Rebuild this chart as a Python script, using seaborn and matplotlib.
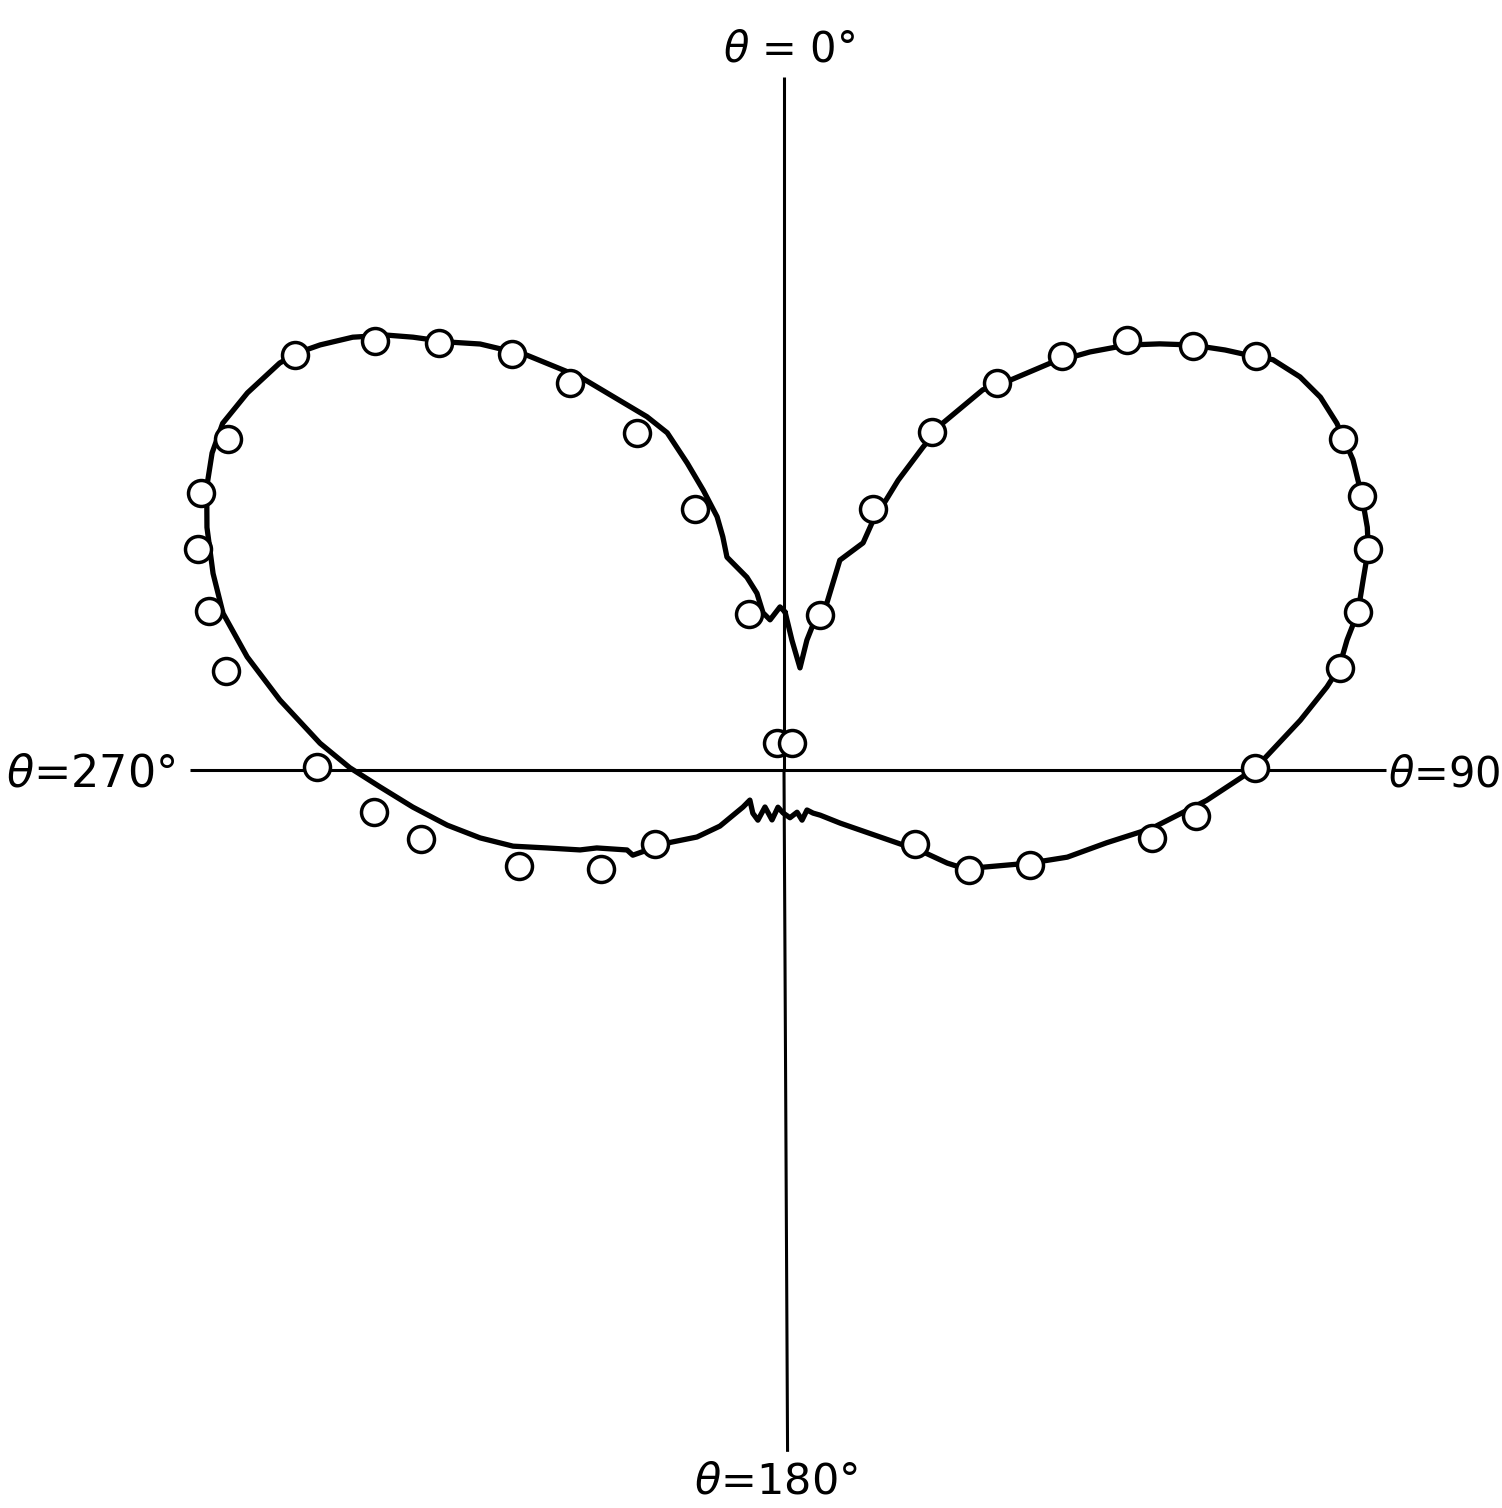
import numpy as np
import pandas as pd
import matplotlib
matplotlib.use("Agg")
import matplotlib.pyplot as plt
import seaborn as sns

# Measured field strength (relative) versus azimuth angle theta (degrees, clockwise from 0)
meas_theta_deg = [13.1, 18.8, 23.65, 28.8, 33.9, 38.6, 44.0, 48.7, 59.4, 64.6,
                  69.3, 74.6, 79.6, 89.8, 96.4, 100.5, 111.1, 118.4, 119.5,
                  347.4, 341.2, 336.4, 331.1, 326.8, 321.1, 316.4, 310.3, 300.8, 295.4,
                  290.7, 285.5, 280.1, 270.4, 264.2, 259.2, 250.1, 241.6, 240.2,
                  345.5, 16.5]
meas_r = [0.245, 0.424, 0.568, 0.680, 0.767, 0.846, 0.906, 0.966, 1.000, 0.984,
          0.961, 0.916, 0.870, 0.725, 0.638, 0.576, 0.406, 0.324, 0.231,
          0.246, 0.424, 0.566, 0.680, 0.765, 0.845, 0.912, 0.987, 0.996, 0.993,
          0.964, 0.918, 0.872, 0.718, 0.634, 0.568, 0.434, 0.320, 0.229,
          0.043, 0.043]

# Continuously recorded pattern
curve_theta_deg = [0.4, 3.5, 8.9, 10.0, 11.3, 14.4, 14.9, 19.2, 19.6, 21.5,
                   23.3, 24.6, 27.6, 30.1, 33.2, 36.2, 38.9, 41.4, 43.8, 46.4,
                   48.8, 50.0, 52.7, 55.2, 57.9, 61.4, 64.6, 67.4, 69.3, 71.8,
                   74.6, 77.0, 79.6, 81.3, 84.5, 89.8, 94.1, 99.0, 102.7, 107.1,
                   110.7, 116.0, 118.4, 119.7, 120.5, 124.9, 133.4, 141.3, 146.0, 150.1,
                   160.2, 162.8, 172.9, 181.3, 189.2, 193.5, 207.2, 207.5, 215.8, 228.6,
                   227.9, 228.8, 232.4, 238.0, 240.6, 243.0, 247.4, 248.6, 251.8, 254.3,
                   257.4, 260.7, 264.3, 267.6, 270.3, 273.3, 277.9, 281.9, 285.6, 289.0,
                   292.8, 296.1, 299.0, 301.7, 305.1, 308.9, 310.6, 312.5, 315.1, 317.6,
                   319.4, 321.8, 324.5, 328.2, 332.6, 338.8, 340.9, 342.5, 343.9, 345.2,
                   345.3, 345.0, 349.1, 351.3, 352.4, 354.7, 358.6, 360.4]
curve_r = [0.243, 0.200, 0.159, 0.203, 0.228, 0.265, 0.334, 0.370, 0.403, 0.479,
           0.541, 0.587, 0.660, 0.693, 0.748, 0.797, 0.840, 0.874, 0.906, 0.937,
           0.965, 0.982, 0.998, 1.005, 1.004, 0.997, 0.984, 0.972, 0.961, 0.938,
           0.916, 0.889, 0.868, 0.845, 0.798, 0.725, 0.652, 0.573, 0.509, 0.456,
           0.405, 0.341, 0.324, 0.289, 0.248, 0.180, 0.119, 0.089, 0.080, 0.071,
           0.082, 0.068, 0.074, 0.066, 0.058, 0.079, 0.064, 0.087, 0.082, 0.070,
           0.085, 0.131, 0.169, 0.212, 0.267, 0.271, 0.312, 0.337, 0.384, 0.433,
           0.479, 0.525, 0.574, 0.622, 0.668, 0.715, 0.783, 0.844, 0.896, 0.929,
           0.963, 0.989, 1.006, 1.015, 1.009, 0.997, 0.986, 0.968, 0.940, 0.906,
           0.877, 0.838, 0.805, 0.751, 0.681, 0.583, 0.549, 0.495, 0.448, 0.403,
           0.371, 0.339, 0.302, 0.275, 0.244, 0.232, 0.251, 0.243]

# Reference axis lines: (theta in degrees, length)
axis_theta_deg = [0.0, 90.0, 179.7, 270.0]
axis_len = [1.066, 0.926, 1.049, 0.914]

# Axis labels: text, pixel position (x, baseline y), alignment, size
label_text = [r"$\theta$ = 0°", r"$\theta$=270°", r"$\theta$=90", r"$\theta$=180°"]
label_xy = [(789, 61), (6, 786), (1388, 786), (776, 1493)]
label_ha = ["center", "left", "left", "center"]
label_size = [30, 32, 30, 31]

W, H = 1502, 1508
CX, CY = 784, 770          # pattern origin in pixels
UNIT = 650                 # pixels per unit of relative field
RMAX = 1.08

fig = plt.figure(figsize=(W / 100, H / 100), dpi=100)
fig.patch.set_facecolor("white")
half = RMAX * UNIT
ax = fig.add_axes([(CX - half) / W, (H - CY - half) / H, 2 * half / W, 2 * half / H],
                  projection="polar")
ax.set_theta_zero_location("N")
ax.set_theta_direction(-1)

# axis cross
for t, L in zip(axis_theta_deg, axis_len):
    ax.plot([np.deg2rad(t), np.deg2rad(t)], [0, L], color="black", lw=2.2,
            solid_capstyle="butt", clip_on=False, zorder=1)

curve = pd.DataFrame({"theta": np.deg2rad(curve_theta_deg), "r": curve_r})
sns.lineplot(data=curve, x="theta", y="r", sort=False, estimator=None,
             color="black", lw=3.8, ax=ax, zorder=2,
             solid_joinstyle="round", solid_capstyle="round")

meas = pd.DataFrame({"theta": np.deg2rad(meas_theta_deg), "r": meas_r})
sns.scatterplot(data=meas, x="theta", y="r", s=350, marker="o",
                facecolor="white", edgecolor="black", linewidth=2.5,
                ax=ax, zorder=3, clip_on=False)

ax.set_ylim(0, RMAX)
ax.set_xlabel("")
ax.set_ylabel("")
ax.set_axis_off()

for txt, (x, y), ha, fs in zip(label_text, label_xy, label_ha, label_size):
    fig.text(x / W, 1 - y / H, txt, ha=ha, va="baseline", fontsize=fs,
             color="black", family="DejaVu Sans")

fig.savefig("out.png", dpi=100, facecolor="white")
